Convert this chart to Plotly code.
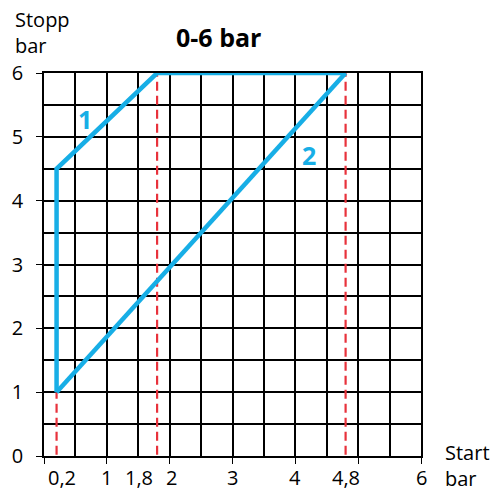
import plotly.graph_objects as go

# data
line1_x = [0.2, 0.2, 1.8, 4.8]
line1_y = [1, 4.5, 6, 6]
line2_x = [0.2, 4.8]
line2_y = [1, 6]
ref_x = [0.2, 1.8, 4.8]
ref_top = [1, 6, 6]
xtick_vals = [0.2, 1, 1.8, 2, 3, 4, 4.8, 6]
xtick_text = ["0,2", "1", "1,8", "2", "3", "4", "4,8", "6"]
ytick_vals = [0, 1, 2, 3, 4, 5, 6]
line_labels = ["1", "2"]
line_label_x = [0.65, 4.21]
line_label_y = [5.28, 4.72]

# label nudges (style)
xtick_shift = {"0,2": 5, "1,8": -18, "2": 2}

BLUE = "#17aee6"
RED = "#e8323c"
FONT = "Open Sans"

fig = go.Figure()

for xv, top in zip(ref_x, ref_top):
    fig.add_trace(go.Scatter(x=[xv, xv], y=[-0.2, top], mode="lines",
                             line=dict(color=RED, width=2.2, dash="9px,5px"),
                             cliponaxis=False, hoverinfo="skip"))

fig.add_trace(go.Scatter(x=line1_x, y=line1_y, mode="lines",
                         line=dict(color=BLUE, width=4.5), cliponaxis=False))
fig.add_trace(go.Scatter(x=line2_x, y=line2_y, mode="lines",
                         line=dict(color=BLUE, width=4.5), cliponaxis=False))

annotations = []
for t, xv, yv in zip(line_labels, line_label_x, line_label_y):
    annotations.append(dict(x=xv, y=yv, text="<b>" + t + "</b>", showarrow=False,
                            font=dict(family=FONT, size=25, color=BLUE)))
for v, t in zip(xtick_vals, xtick_text):
    annotations.append(dict(x=v, xref="x", y=0, yref="paper", yshift=-21,
                            xshift=xtick_shift.get(t, 0), text=t, yanchor="middle",
                            showarrow=False, font=dict(family=FONT, size=20, color="black")))

annotations += [
    dict(x=0, xref="paper", y=1.0, yref="paper", text="Stopp<br>bar", showarrow=False,
         xanchor="left", yanchor="bottom", align="left", yshift=12, xshift=-31,
         font=dict(family=FONT, size=20, color="black")),
    dict(x=1.0, xref="paper", y=0, yref="paper", text="Start<br>bar", showarrow=False,
         xanchor="left", yanchor="top", align="left", xshift=22, yshift=19,
         font=dict(family=FONT, size=20, color="black")),
    dict(x=0.462, xref="paper", y=1.0, yref="paper", text="<b>0-6 bar</b>", showarrow=False,
         xanchor="center", yanchor="middle", yshift=36,
         font=dict(family=FONT, size=25, color="black")),
]

fig.update_layout(
    width=499, height=492,
    margin=dict(l=44, r=78, t=73, b=36, autoexpand=False),
    paper_bgcolor="white", plot_bgcolor="white",
    showlegend=False,
    annotations=annotations,
    font=dict(family=FONT, size=20, color="black"),
)
fig.update_xaxes(range=[0, 6], tickmode="linear", tick0=0, dtick=1, automargin=False,
                 showticklabels=False, ticks="outside", ticklen=6, tickcolor="black",
                 showgrid=True, gridcolor="black", gridwidth=1.5,
                 minor=dict(dtick=0.5, showgrid=True, gridcolor="black", gridwidth=1.5),
                 showline=True, linecolor="black", linewidth=1.8, mirror=True,
                 zeroline=False)
fig.update_yaxes(range=[0, 6], tickmode="array", tickvals=ytick_vals, automargin=False,
                 ticks="outside", ticklen=6, tickcolor="black",
                 tickfont=dict(family=FONT, size=20), ticklabelstandoff=9,
                 showgrid=True, gridcolor="black", gridwidth=1.5,
                 minor=dict(dtick=0.5, showgrid=True, gridcolor="black", gridwidth=1.5),
                 showline=True, linecolor="black", linewidth=1.8, mirror=True,
                 zeroline=False)

fig.write_html("out.html", config={"displayModeBar": False},
               post_script="document.body.style.margin='0';")
